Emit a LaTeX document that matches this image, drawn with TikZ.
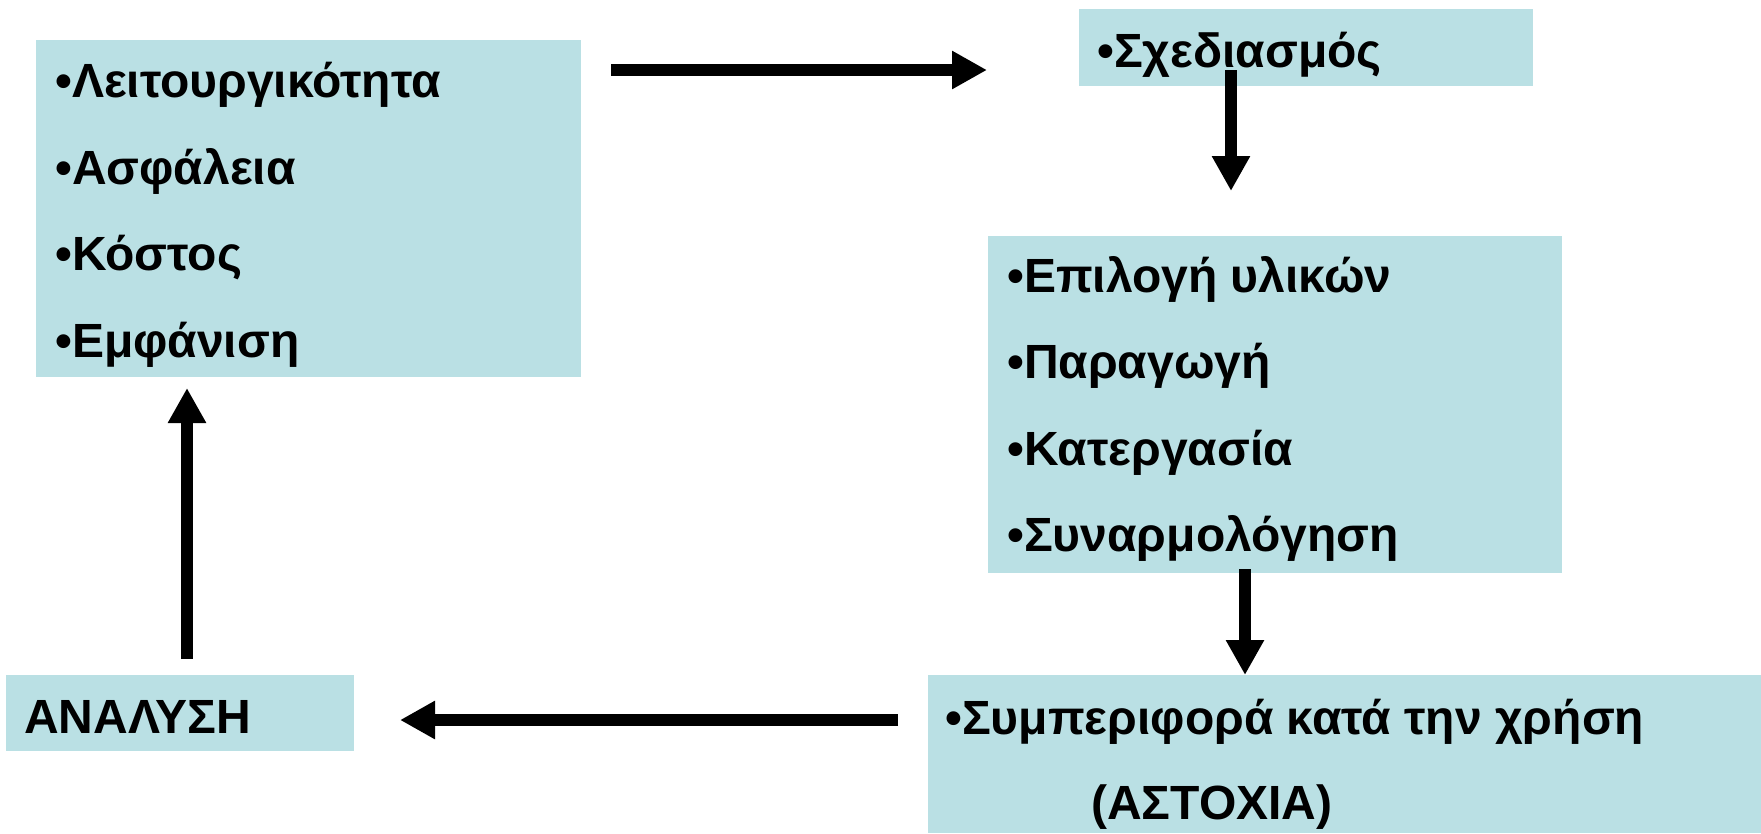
\documentclass[tikz,border=0pt]{standalone}
\usepackage{fontspec}
\setmainfont{Liberation Sans}
\usetikzlibrary{arrows.meta}
\definecolor{boxfill}{RGB}{186,224,228}
\begin{document}
\begin{tikzpicture}[x=1pt,y=-1pt,
  box/.style={fill=boxfill,draw=none,inner sep=0pt,anchor=north west},
  txt/.style={anchor=base west,inner sep=0pt,font=\fontsize{48}{57}\selectfont\bfseries},
  bigarrow/.style={line width=12pt,line cap=butt,-{Triangle[length=35pt,width=36pt]}}]
\useasboundingbox (0,0) rectangle (1761,833);
% boxes
\node[box,minimum width=545pt,minimum height=337pt] (b1) at (36,40) {};
\node[box,minimum width=454pt,minimum height=77pt] (b2) at (1079,9) {};
\node[box,minimum width=574pt,minimum height=337pt] (b3) at (988,236) {};
\node[box,minimum width=833pt,minimum height=158pt] (b4) at (928,675) {};
\node[box,minimum width=348pt,minimum height=76pt] (b5) at (6,675) {};
% arrows
\coordinate (a1s) at (611,70);
\coordinate (a1e) at (987,70);
\coordinate (a2s) at (1231,70);
\coordinate (a2e) at (1231,191);
\coordinate (a3s) at (1245,569);
\coordinate (a3e) at (1245,675);
\coordinate (a4s) at (898,720);
\coordinate (a4e) at (400,720);
\coordinate (a5s) at (187,659);
\coordinate (a5e) at (187,388);
\draw[bigarrow] (a1s) -- (a1e);
\draw[bigarrow] (a2s) -- (a2e);
\draw[bigarrow] (a3s) -- (a3e);
\draw[bigarrow] (a4s) -- (a4e);
\draw[bigarrow] (a5s) -- (a5e);
% texts
\node[txt] (t11) at (55,97) {•Λειτουργικότητα};
\node[txt] (t12) at (55,184) {•Ασφάλεια};
\node[txt] (t13) at (55,270) {•Κόστος};
\node[txt] (t14) at (55,357) {•Εμφάνιση};
\node[txt] (t2) at (1097,67) {•Σχεδιασμός};
\node[txt] (t31) at (1007,292) {•Επιλογή υλικών};
\node[txt] (t32) at (1007,378) {•Παραγωγή};
\node[txt] (t33) at (1007,465) {•Κατεργασία};
\node[txt] (t34) at (1007,551) {•Συναρμολόγηση};
\node[txt] (t41) at (945,734) {•Συμπεριφορά κατά την χρήση};
\node[txt] (t42) at (1091,819) {(ΑΣΤΟΧΙΑ)};
\node[txt] (t5) at (24,733) {ΑΝΑΛΥΣΗ};
\end{tikzpicture}
\end{document}
